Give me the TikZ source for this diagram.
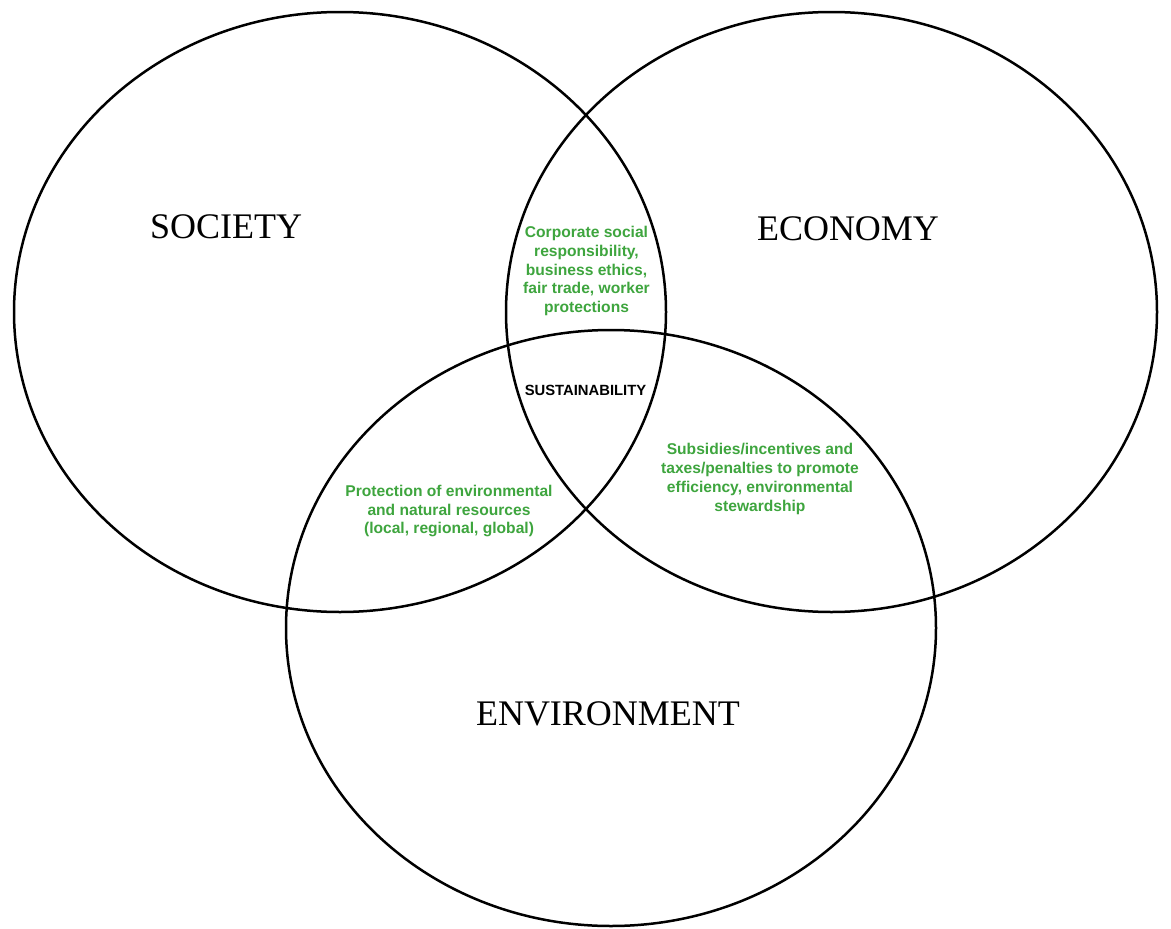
\documentclass[tikz,border=0pt]{standalone}
\usepackage{fontspec}
\setmainfont{Liberation Serif}
\newfontfamily\arialfont{Liberation Sans}
\usetikzlibrary{shapes.geometric}
\definecolor{vgreen}{RGB}{62,165,62}
\tikzset{
  circ/.style={ellipse, draw=black, line width=2.5pt, inner sep=0pt},
  biglabel/.style={font=\fontsize{36}{40}\selectfont, text=black, inner sep=0pt},
  greentext/.style={font=\arialfont\bfseries\fontsize{15.6}{18.8}\selectfont, text=vgreen, align=center, inner sep=0pt},
  coretext/.style={font=\arialfont\bfseries\fontsize{14.8}{17}\selectfont, text=black, inner sep=0pt}
}
\begin{document}
\begin{tikzpicture}[x=1pt,y=-1pt]
\useasboundingbox[fill=white] (0,0) rectangle (1171,929);
\node[circ, minimum width=652pt, minimum height=600pt] (society) at (340,312) {};
\node[circ, minimum width=651pt, minimum height=600pt] (economy) at (831.5,312) {};
\node[circ, minimum width=650pt, minimum height=596pt] (environment) at (611,628) {};
\node[biglabel] (soclabel) at (226,227) {SOCIETY};
\node[biglabel] (ecolabel) at (848,229) {ECONOMY};
\node[biglabel] (envlabel) at (608,714) {ENVIRONMENT};
\node[greentext] (csr) at (586.5,271) {Corporate social\\responsibility,\\business ethics,\\fair trade, worker\\protections};
\node[coretext] (sust) at (585.5,390) {SUSTAINABILITY};
\node[greentext] (protect) at (449,511) {Protection of environmental\\and natural resources\\(local, regional, global)};
\node[greentext] (subsid) at (760,479) {Subsidies/incentives and\\taxes/penalties to promote\\efficiency, environmental\\stewardship};
\end{tikzpicture}
\end{document}
